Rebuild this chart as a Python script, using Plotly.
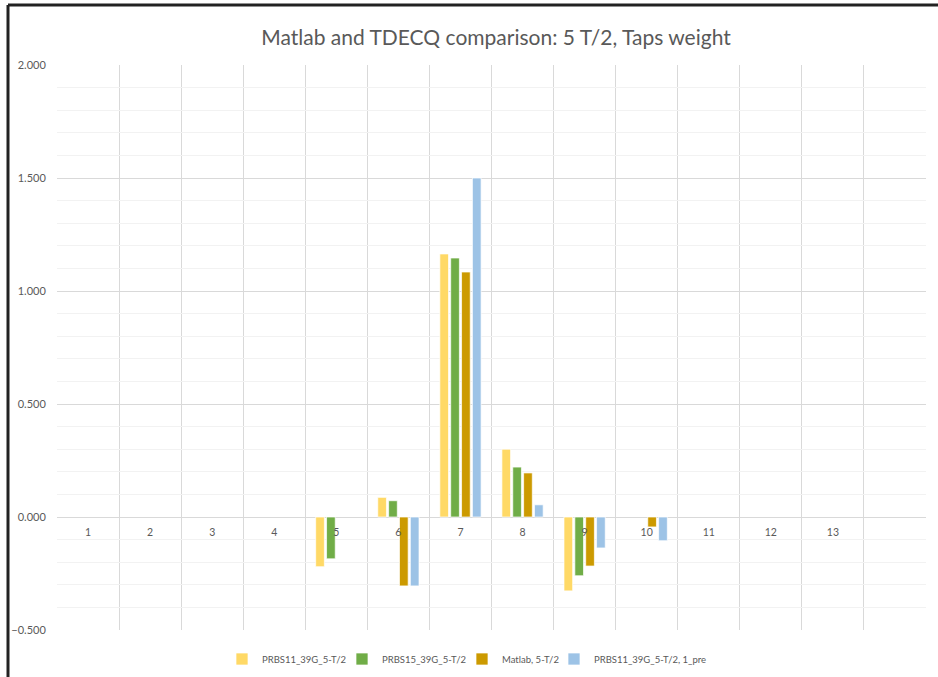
import plotly.graph_objects as go

categories = list(range(1, 14))
tick_labels = [str(c) for c in categories]

prbs11 = [None, None, None, None, -0.220, 0.087, 1.164, 0.300, -0.327, None, None, None, None]
prbs15 = [None, None, None, None, -0.185, 0.072, 1.146, 0.221, -0.260, None, None, None, None]
matlab = [None, None, None, None, None, -0.305, 1.084, 0.195, -0.217, -0.044, None, None, None]
prbs11_pre = [None, None, None, None, None, -0.305, 1.500, 0.054, -0.137, -0.105, None, None, None]

series = [
    ("PRBS11_39G_5-T/2", prbs11, "#FFD966"),
    ("PRBS15_39G_5-T/2", prbs15, "#70AD47"),
    ("Matlab, 5-T/2", matlab, "#CC9A00"),
    ("PRBS11_39G_5-T/2, 1_pre", prbs11_pre, "#9DC3E6"),
]

# plot area in pixels (layout only)
L, R, T, B = 57, 12, 65, 47
W, H = 938, 677
PW, PH = W - L - R, H - T - B

def px_x(p):
    return (p - L) / PW

def px_y(p):
    return (H - B - p) / PH

legend_left_px = [222, 342, 462, 554]
legend_names = ["legend", "legend2", "legend3", "legend4"]

fig = go.Figure()
for i, (name, vals, color) in enumerate(series):
    fig.add_trace(go.Bar(
        x=categories, y=vals, name=name, legend=legend_names[i],
        marker=dict(color=color, line=dict(color="white", width=0.7)),
    ))

font_family = "Lato, 'Open Sans', sans-serif"
grey = "#595959"

legend_layout = {}
for i, ln in enumerate(legend_names):
    legend_layout[ln] = dict(
        orientation="h", x=px_x(legend_left_px[i]), xanchor="left",
        y=px_y(659), yanchor="middle", bgcolor="rgba(0,0,0,0)",
        font=dict(size=9.5, color=grey), itemwidth=30,
    )

fig.update_layout(
    width=W, height=H,
    margin=dict(l=L, r=R, t=T, b=B, autoexpand=False),
    paper_bgcolor="white", plot_bgcolor="white",
    barmode="group", bargap=0.3, bargroupgap=0.2,
    font=dict(family=font_family, color=grey),
    title=dict(text="Matlab and TDECQ comparison: 5 T/2, Taps weight",
               x=px_x(496), xref="paper", xanchor="center", y=1 - 38 / H, yanchor="middle",
               font=dict(size=21, color=grey)),
    showlegend=True,
    xaxis=dict(
        range=[0.5, 14.5], tickvals=categories, ticktext=tick_labels,
        anchor="free", position=0.2, automargin=False,
        showgrid=False, zeroline=False, showline=False,
        ticks="outside", ticklen=5, tickcolor="rgba(0,0,0,0)",
        tickfont=dict(size=10.5, color=grey),
        minor=dict(tickvals=[i + 0.5 for i in range(0, 15)], showgrid=True,
                   gridcolor="#d9d9d9", gridwidth=1, ticks=""),
    ),
    yaxis=dict(
        range=[-0.5, 2.0], dtick=0.5, tickformat=".3f", automargin=False,
        showgrid=True, gridcolor="#d9d9d9", gridwidth=1,
        zeroline=True, zerolinecolor="#d9d9d9", zerolinewidth=1,
        showline=False,
        ticks="outside", ticklen=8, tickcolor="rgba(0,0,0,0)",
        tickfont=dict(size=11, color=grey),
        minor=dict(dtick=0.1, showgrid=True, gridcolor="#f2f2f2", gridwidth=1),
    ),
    shapes=[
        dict(type="line", xref="paper", yref="paper", x0=px_x(8), x1=px_x(8), y0=px_y(H + 5), y1=px_y(5),
             line=dict(color="#222222", width=3)),
        dict(type="line", xref="paper", yref="paper", x0=px_x(8), x1=px_x(W + 5), y0=px_y(5), y1=px_y(5),
             line=dict(color="#222222", width=3)),
    ],
    **legend_layout,
)

fig.write_html("out.html", config={"displayModeBar": False},
               post_script="document.body.style.margin='0';")
